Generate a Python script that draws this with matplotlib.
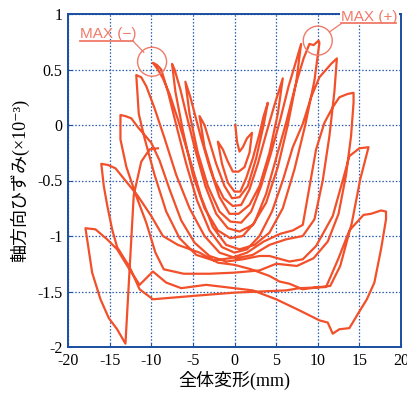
import matplotlib
matplotlib.use("Agg")
import matplotlib.pyplot as plt
from matplotlib.patches import Ellipse

plt.rcParams['axes.unicode_minus'] = False

# ---- data: traced hysteresis path (displacement mm, axial strain x1e-3) ----
disp = [
    0.1, 0.3, 0.6, 1.0, 1.5, 2.1,
    1.8, 1.2, 0.5, -0.2, -0.8, -1.4, -2.0,
    -1.5, -0.8, 0.0, 0.7, 1.4, 2.2, 3.0, 3.5, 4.0,
    3.5, 2.6, 1.6, 0.6, -0.3, -1.2, -2.2, -3.0, -3.6, -4.2,
    -3.6, -2.5, -1.3, -0.2, 0.8, 1.8, 2.8, 3.8, 4.8, 5.8,
    5.2, 4.2, 3.0, 1.8, 0.5, -0.6, -1.8, -3.0, -4.0, -4.6, -5.3, -5.9,
    -5.4, -4.4, -3.2, -1.8, -0.5, 0.8, 2.0, 3.2, 4.4, 5.5, 6.5, 7.3, 8.0,
    7.4, 6.4, 5.2, 3.8, 2.2, 0.6, -0.8, -2.2, -3.5, -4.8, -5.8, -6.5, -7.2, -7.5,
    -7.1, -6.2, -5.0, -3.6, -2.0, -0.5, 1.0, 2.4, 3.8, 5.0, 6.2, 7.3, 8.3, 9.0, 9.5, 10.1, 10.2,
    9.6, 8.5, 7.2, 5.8, 4.2, 2.4, 0.6, -1.0, -2.6, -4.0, -5.4, -6.8, -7.8, -8.6, -9.2, -9.8,
    -9.3, -8.8, -8.0, -7.0, -5.8, -4.5, -3.0, -1.5, 0.0, 1.5, 3.0, 4.5, 5.8, 7.0, 8.2, 9.2, 10.2, 11.6, 12.3,
    12.0, 11.4, 10.6, 9.6, 8.2, 6.2, 4.2, 2.2, 0.2, -1.8, -3.6, -5.4, -7.0, -8.4, -9.6, -10.6, -11.2, -11.8,
    -11.5, -10.8, -9.6, -8.2, -6.6, -4.6, -2.5, -0.5, 1.5, 3.5, 5.5, 7.0, 8.2, 9.8, 10.8, 11.8, 12.6, 13.6, 14.3, 14.3,
    14.0, 13.4, 12.5, 11.2, 9.5, 7.5, 5.0, 3.0, 0.0, -3.0, -6.1, -8.5, -9.5, -10.6, -11.8, -13.0, -13.7, -13.7,
    -13.1, -12.4, -11.6, -10.0, -9.0, -7.8, -6.4, -4.8, -3.0, -1.0, 1.0, 3.0, 4.2, 6.6, 8.2, 9.8, 11.8, 13.0, 13.8, 15.0, 16.1,
    15.1, 14.1, 12.7, 11.5, 10.2, 8.2, 6.6, 5.4, 4.2, 2.0, 0.0, -2.0, -4.2, -6.8, -8.6, -10.0, -11.6, -14.3, -15.2, -16.0,
    -15.7, -15.3, -14.7, -14.1, -12.6, -11.4, -9.8, -5.0, 0.0, 6.2, 7.8, 11.0, 12.5, 13.8, 15.5, 16.4, 17.6, 18.2, 18.2,
    17.6, 16.8, 15.9, 15.0, 13.8, 12.6, 11.8, 11.2, 10.2, 7.8, 5.0, 2.2, 0.0, -3.4, -6.4, -8.2, -9.8, -11.4,
    -12.7, -14.1, -15.3, -16.7, -17.9,
    -17.1, -16.1, -15.1, -14.1, -13.1, -12.1, -11.2, -10.2, -9.2,
]
strain = [
    0.0, -0.15, -0.24, -0.2, -0.12, -0.07,
    -0.25, -0.38, -0.42, -0.42, -0.33, -0.22, -0.15,
    -0.35, -0.52, -0.6, -0.6, -0.48, -0.3, -0.08, 0.08, 0.2,
    0.0, -0.3, -0.55, -0.65, -0.66, -0.55, -0.35, -0.15, 0.0, 0.08,
    -0.2, -0.48, -0.66, -0.73, -0.72, -0.58, -0.35, -0.08, 0.18, 0.42,
    0.1, -0.25, -0.55, -0.72, -0.8, -0.8, -0.65, -0.38, -0.12, 0.05, 0.25, 0.39,
    0.1, -0.25, -0.55, -0.78, -0.87, -0.88, -0.78, -0.55, -0.25, 0.05, 0.35, 0.55, 0.73,
    0.38, 0.0, -0.38, -0.7, -0.9, -0.96, -0.93, -0.8, -0.55, -0.2, 0.1, 0.32, 0.5, 0.55,
    0.3, -0.05, -0.45, -0.75, -0.95, -1.02, -1.0, -0.88, -0.62, -0.3, 0.02, 0.35, 0.6, 0.73, 0.72, 0.76, 0.74,
    0.4, 0.0, -0.4, -0.75, -0.97, -1.08, -1.12, -1.08, -0.92, -0.65, -0.3, 0.05, 0.28, 0.42, 0.5, 0.56,
    0.54, 0.5, 0.3, 0.0, -0.35, -0.68, -0.95, -1.1, -1.15, -1.12, -1.0, -0.78, -0.5, -0.2, 0.01, 0.25, 0.43, 0.55, 0.6,
    0.3, -0.1, -0.5, -0.85, -1.0, -1.03, -1.08, -1.17, -1.2, -1.15, -1.0, -0.75, -0.45, -0.12, 0.15, 0.35, 0.43, 0.45,
    0.1, -0.12, -0.45, -0.78, -1.02, -1.17, -1.22, -1.2, -1.15, -1.05, -0.98, -0.95, -0.9, -0.22, 0.02, 0.16, 0.25, 0.28, 0.29, 0.2,
    -0.1, -0.45, -0.8, -1.05, -1.2, -1.27, -1.25, -1.31, -1.33, -1.34, -1.34, -1.3, -1.15, -0.88, -0.64, -0.375, -0.13, 0.09,
    0.08, 0.06, -0.02, -0.16, -0.32, -0.58, -0.86, -1.06, -1.18, -1.23, -1.21, -1.18, -1.18, -1.23, -1.21, -1.09, -0.82, -0.5, -0.28, -0.21, -0.2,
    -0.49, -0.88, -1.27, -1.45, -1.46, -1.48, -1.43, -1.41, -1.36, -1.3, -1.26, -1.24, -1.15, -1.08, -1.0, -0.82, -0.64, -0.39, -0.36, -0.35,
    -0.55, -0.72, -0.94, -1.1, -1.28, -1.48, -1.57, -1.54, -1.51, -1.49, -1.47, -1.46, -1.2, -0.95, -0.81, -0.8, -0.77, -0.78, -0.85,
    -1.12, -1.42, -1.57, -1.68, -1.83, -1.84, -1.88, -1.78, -1.76, -1.67, -1.57, -1.49, -1.47, -1.44, -1.47, -1.42, -1.32, -1.44,
    -1.29, -1.12, -1.03, -0.94, -0.93,
    -1.33, -1.57, -1.74, -1.84, -1.97, -0.63, -0.33, -0.22, -0.21,
]

x_ticks = [-20, -15, -10, -5, 0, 5, 10, 15, 20]
y_ticks = [1, 0.5, 0, -0.5, -1, -1.5, -2]
y_ticklabels = ["1", "0.5", "0", "-0.5", "-1", "-1.5", "-2"]
max_neg = (-9.9, 0.57)
max_pos = (10.0, 0.76)

line_color = '#f2502a'
ann_color = '#f07a68'
grid_color = '#2a5db0'
frame_color = '#1a4ea0'

fig = plt.figure(figsize=(4.07, 3.95), dpi=100)
ax = fig.add_axes([68/407, 1-347/395, (401-68)/407, (347-14)/395])

ax.plot(disp, strain, color=line_color, lw=1.6, solid_joinstyle='round', zorder=3)

ax.set_xlim(-20, 20)
ax.set_ylim(-2, 1)
ax.set_xticks(x_ticks)
ax.set_xticklabels([str(t) for t in x_ticks])
ax.set_yticks(y_ticks)
ax.set_yticklabels(y_ticklabels)
ax.grid(True, color=grid_color, linestyle=(0, (1.2, 1.5)), lw=0.9)
for s in ax.spines.values():
    s.set_color(frame_color)
    s.set_linewidth(1.4)
ax.tick_params(direction='in', length=3, color=frame_color, labelsize=11.5, pad=4)
for lab in ax.get_xticklabels() + ax.get_yticklabels():
    lab.set_fontfamily('Liberation Serif')

fam = ['Liberation Serif', 'Noto Sans CJK JP', 'DejaVu Sans']
ax.set_xlabel('全体変形(mm)', family=fam, fontsize=13, labelpad=2)
ax.set_ylabel('軸方向ひずみ(×10⁻³)', family=fam, fontsize=13, labelpad=6)

# annotation circles
pw = 8.33  # px per mm
ph = 111.0  # px per unit strain
r = 14.5
for c in (max_neg, max_pos):
    ax.add_patch(Ellipse(c, 2*r/pw, 2*r/ph, fill=False, ec=ann_color, lw=1.0, zorder=4))

afam = ['Liberation Sans', 'DejaVu Sans']
ax.text(-18.6, 0.784, 'MAX (−)', color=ann_color, fontsize=11, family=afam,
        va='baseline', ha='left', zorder=5)
ax.plot([-18.6, -12.2], [0.757, 0.757], color=ann_color, lw=1.3, zorder=5)
ax.plot([-12.2, -10.9], [0.757, 0.655], color=ann_color, lw=0.9, zorder=5)
ax.text(12.85, 0.94, 'MAX (+)', color=ann_color, fontsize=11, family=afam,
        va='baseline', ha='left', zorder=6, clip_on=False,
        bbox=dict(facecolor='white', edgecolor='none', pad=1.0))
ax.plot([12.85, 19.4], [0.915, 0.915], color=ann_color, lw=1.3, zorder=7, clip_on=False)
ax.plot([12.85, 11.4], [0.915, 0.838], color=ann_color, lw=0.9, zorder=7)

fig.savefig('out.png', dpi=100)
